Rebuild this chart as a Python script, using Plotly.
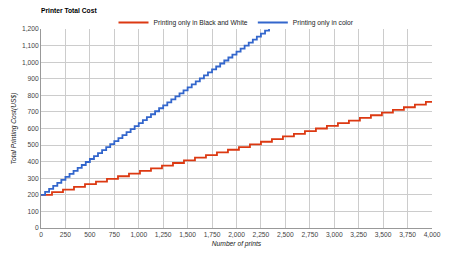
import plotly.graph_objects as go

# Step points (number of prints where cost steps up) and total cost (US$)
bw_prints = [0, 112.5, 225, 337.5, 450, 562.5, 675, 787.5, 900, 1012.5, 1125, 1237.5,
             1350, 1462.5, 1575, 1687.5, 1800, 1912.5, 2025, 2137.5, 2250, 2362.5, 2475,
             2587.5, 2700, 2812.5, 2925, 3037.5, 3150, 3262.5, 3375, 3487.5, 3600, 3712.5,
             3825, 3937.5, 4000]
bw_cost = [200, 216, 232, 248, 264, 280, 296, 312, 328, 344, 360, 376, 392, 408, 424, 440,
           456, 472, 488, 504, 520, 536, 552, 568, 584, 600, 616, 632, 648, 664, 680, 696,
           712, 728, 744, 760, 760]

color_prints = [0, 42, 83, 125, 167, 208, 250, 292, 333, 375, 417, 458, 500, 542, 583, 625,
                667, 708, 750, 792, 833, 875, 917, 958, 1000, 1042, 1083, 1125, 1167, 1208,
                1250, 1292, 1333, 1375, 1417, 1458, 1500, 1542, 1583, 1625, 1667, 1708, 1750,
                1792, 1833, 1875, 1917, 1958, 2000, 2042, 2083, 2125, 2167, 2208, 2250, 2292,
                2333]
color_cost = [200, 218, 236, 254, 272, 290, 308, 326, 344, 362, 380, 398, 416, 434, 452, 470,
              488, 506, 524, 542, 560, 578, 596, 614, 632, 650, 668, 686, 704, 722, 740, 758,
              776, 794, 812, 830, 848, 866, 884, 902, 920, 938, 956, 974, 992, 1010, 1028,
              1046, 1064, 1082, 1100, 1118, 1136, 1154, 1172, 1190, 1208]

x_ticks = list(range(0, 4001, 250))
y_ticks = list(range(0, 1201, 100))

FONT = "Liberation Sans, Arial, sans-serif"
FS = 6.7

fig = go.Figure()
fig.add_trace(go.Scatter(x=bw_prints, y=bw_cost, mode="lines", line_shape="hv",
                         name="Printing only in Black and White",
                         line=dict(color="#dc3912", width=1.8)))
fig.add_trace(go.Scatter(x=color_prints, y=color_cost, mode="lines", line_shape="hv",
                         name="Printing only in color",
                         line=dict(color="#3366cc", width=1.8)))

fig.update_layout(
    width=450, height=260,
    margin=dict(l=41, r=18, t=29, b=32, autoexpand=False),
    paper_bgcolor="white", plot_bgcolor="white",
    font=dict(family=FONT, size=FS, color="#444"),
    title=dict(text="<b>Printer Total Cost</b>", x=41/450, xanchor="left",
               y=1 - 11/260, yanchor="middle",
               font=dict(family=FONT, size=FS, color="#000")),
    showlegend=True,
    legend=dict(orientation="h", x=0.5, xanchor="center", y=1 - 22.5/260,
                yanchor="middle", xref="paper", yref="container",
                font=dict(family=FONT, size=FS, color="#222"),
                bgcolor="rgba(0,0,0,0)", itemwidth=30, tracegroupgap=0),
    xaxis=dict(range=[0, 4000], tickvals=x_ticks, tickformat=",d",
               showgrid=True, gridcolor="#cccccc", gridwidth=1,
               showline=True, linecolor="#999999", linewidth=1, zeroline=False,
               ticks="", automargin=False,
               tickfont=dict(family=FONT, size=FS, color="#444"),
               title=dict(text="<i>Number of prints</i>", standoff=4,
                          font=dict(family=FONT, size=FS, color="#222"))),
    yaxis=dict(range=[0, 1200], tickvals=y_ticks, tickformat=",d",
               showgrid=True, gridcolor="#cccccc", gridwidth=1,
               showline=True, linecolor="#999999", linewidth=1, zeroline=False,
               ticks="", automargin=False,
               tickfont=dict(family=FONT, size=FS, color="#444"),
               title=dict(text="<i>Total Printing Cost(US$)</i>", standoff=4,
                          font=dict(family=FONT, size=FS, color="#222"))),
)

fig.write_html("out.html")
